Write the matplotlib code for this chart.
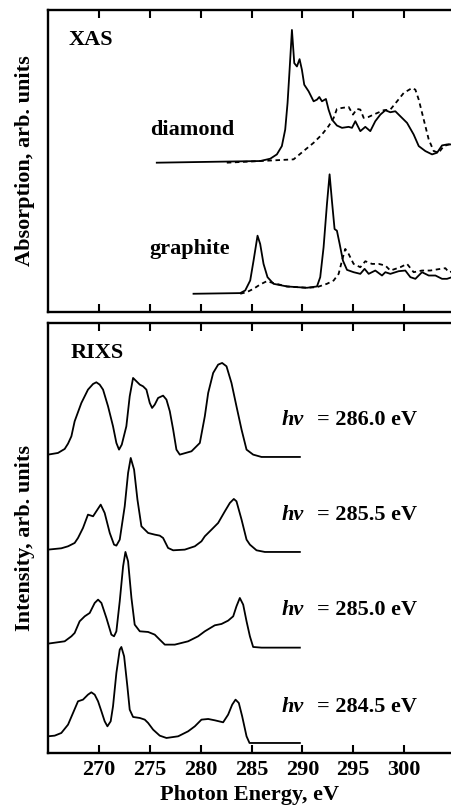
import matplotlib
matplotlib.use("Agg")
import matplotlib.pyplot as plt

plt.rcParams['font.family'] = ['Liberation Serif', 'DejaVu Serif']
plt.rcParams['font.weight'] = 'bold'

# ---------------- XAS data (photon energy eV, absorption arb. units) ----------------
dia_solid_x = [275.69, 285.85, 286.84, 287.49, 287.98, 288.31, 288.54, 288.74, 288.97, 289.20, 289.46,
               289.72, 289.95, 290.18, 290.61, 291.10, 291.43, 291.66, 291.92, 292.31, 292.57, 292.90,
               293.39, 293.89, 294.54, 294.87, 295.20, 295.69, 296.18, 296.67, 297.16, 297.66, 298.15,
               298.64, 299.13, 299.62, 300.28, 300.93, 301.43, 302.08, 302.74, 303.23, 303.72, 304.21,
               304.70]
dia_solid_y = [45.0, 45.5, 46.2, 47.5, 50.0, 55.0, 63.0, 73.0, 85.0, 75.0, 74.0,
               76.2, 73.0, 68.5, 66.5, 63.5, 64.0, 64.8, 63.5, 64.2, 61.0, 58.0,
               56.2, 55.5, 55.8, 55.5, 57.5, 54.5, 55.8, 54.5, 57.5, 59.5, 60.8,
               60.2, 60.5, 59.0, 57.0, 53.5, 50.0, 48.5, 47.5, 48.0, 50.2, 50.5,
               50.5]
dia_dash_x = [282.57, 289.13, 290.11, 291.10, 291.92, 292.57, 293.07, 293.39, 293.89, 294.54, 294.97,
              295.36, 295.69, 296.02, 296.51, 297.00, 297.98, 298.64, 299.30, 299.95, 300.77, 301.10,
              301.43, 301.92, 302.41, 302.90, 303.39, 303.89, 304.70]
dia_dash_y = [45.0, 46.0, 48.5, 51.0, 53.5, 56.0, 58.5, 61.2, 61.5, 61.8, 59.5,
              61.2, 61.0, 58.5, 58.8, 59.5, 60.8, 61.0, 63.5, 66.0, 67.5, 67.0,
              64.0, 58.0, 52.0, 48.5, 48.0, 50.0, 50.8]
gra_solid_x = [279.30, 283.89, 284.38, 284.87, 285.20, 285.59, 285.85, 286.18, 286.57, 287.16, 288.48,
               290.44, 291.43, 291.75, 292.08, 292.41, 292.67, 292.90, 293.16, 293.39, 293.66, 293.98,
               294.38, 295.03, 295.69, 296.11, 296.51, 297.16, 297.82, 298.15, 298.64, 299.46, 300.11,
               300.61, 301.10, 301.75, 302.41, 303.07, 303.72, 304.21, 304.70]
gra_solid_y = [5.5, 5.7, 6.5, 9.5, 15.5, 23.0, 20.5, 14.5, 10.5, 8.5, 7.7,
               7.3, 7.7, 10.5, 19.5, 32.5, 41.5, 33.5, 25.0, 24.5, 20.5, 15.5,
               12.7, 12.0, 11.5, 13.0, 11.5, 12.5, 11.0, 12.0, 11.5, 12.3, 12.5,
               10.5, 10.0, 12.0, 11.0, 11.0, 10.0, 10.0, 10.5]
gra_dash_x = [283.89, 284.54, 285.20, 285.85, 286.51, 287.16, 288.48, 290.44, 291.43, 292.41, 293.07,
              293.56, 293.89, 294.21, 294.54, 295.03, 295.69, 296.18, 296.84, 297.49, 298.15, 298.64,
              299.62, 300.28, 300.93, 301.75, 302.57, 303.56, 304.05, 304.38, 304.70]
gra_dash_y = [5.5, 6.0, 7.0, 8.3, 9.3, 8.7, 7.7, 7.3, 7.5, 8.5, 9.5,
              11.5, 15.5, 19.0, 17.5, 14.5, 13.5, 15.3, 14.5, 14.5, 14.0, 12.5,
              13.5, 14.5, 12.0, 12.5, 12.5, 13.0, 13.2, 12.0, 12.2]

# ---------------- RIXS data (photon energy eV, intensity arb. units, stacked) ----------------
rixs_labels = ["= 286.0 eV", "= 285.5 eV", "= 285.0 eV", "= 284.5 eV"]
rixs_label_y = [100.0, 71.5, 43.0, 13.9]

r1_x = [265.00, 265.98, 266.64, 266.97, 267.30, 267.62, 268.28, 268.93, 269.43, 269.75, 270.08,
        270.41, 270.90, 271.39, 271.72, 271.98, 272.25, 272.70, 273.03, 273.36, 273.69, 274.02,
        274.34, 274.67, 275.00, 275.23, 275.49, 275.82, 276.31, 276.64, 276.97, 277.30, 277.62,
        277.95, 279.10, 279.92, 280.41, 280.74, 281.23, 281.72, 282.11, 282.54, 283.03, 283.52,
        284.02, 284.51, 285.16, 285.98, 289.75]
r1_y = [89.5, 90.0, 91.2, 92.8, 95.0, 99.5, 105.0, 109.0, 110.7, 111.2, 110.5,
        109.0, 104.0, 98.0, 93.0, 91.0, 92.5, 98.0, 107.0, 112.5, 111.5, 110.5,
        110.0, 109.0, 105.0, 103.5, 104.5, 106.5, 107.2, 106.0, 102.5, 97.0, 91.0,
        89.5, 90.5, 93.0, 101.0, 108.0, 114.0, 116.5, 117.0, 116.0, 111.0, 104.0,
        97.0, 91.0, 89.5, 88.8, 88.8]
r2_x = [265.00, 266.31, 266.97, 267.62, 267.95, 268.44, 268.93, 269.43, 269.75, 270.18, 270.57,
        271.07, 271.49, 271.72, 272.05, 272.54, 272.87, 273.13, 273.46, 273.79, 274.18, 274.84,
        275.49, 275.98, 276.31, 276.80, 277.30, 278.44, 279.43, 280.08, 280.41, 281.07, 281.72,
        282.38, 282.87, 283.26, 283.52, 284.02, 284.51, 284.84, 285.49, 286.31, 289.75]
r2_y = [61.0, 61.4, 62.0, 63.0, 64.5, 67.5, 71.5, 71.0, 72.5, 74.5, 72.0,
        66.0, 62.5, 62.2, 64.0, 74.0, 84.0, 88.5, 85.0, 76.0, 68.0, 66.0,
        65.5, 65.2, 64.5, 61.5, 60.8, 61.0, 62.0, 63.5, 65.0, 67.0, 69.0,
        72.5, 75.0, 76.2, 75.5, 70.0, 64.0, 62.5, 60.8, 60.3, 60.3]
r3_x = [265.00, 266.64, 267.30, 267.62, 268.11, 268.61, 269.10, 269.59, 269.92, 270.25, 270.74,
        271.23, 271.49, 271.72, 272.05, 272.38, 272.61, 272.87, 273.20, 273.52, 274.02, 274.84,
        275.49, 275.98, 276.48, 277.46, 278.77, 279.75, 280.41, 281.39, 282.05, 282.70, 283.20,
        283.52, 283.85, 284.18, 284.51, 284.84, 285.16, 285.98, 289.75]
r3_y = [32.8, 33.5, 35.0, 36.0, 39.5, 41.0, 42.0, 45.0, 46.0, 45.0, 40.5,
        35.5, 35.0, 36.5, 45.5, 56.0, 60.3, 57.5, 46.5, 38.5, 36.5, 36.3,
        35.5, 34.0, 32.5, 32.5, 33.5, 35.0, 36.5, 38.3, 38.7, 39.7, 41.0,
        44.0, 46.5, 44.5, 39.5, 35.0, 31.8, 31.6, 31.6]
r4_x = [265.00, 265.66, 266.31, 266.97, 267.46, 267.95, 268.44, 268.93, 269.26, 269.59, 269.92,
        270.25, 270.57, 270.84, 271.16, 271.39, 271.72, 272.05, 272.21, 272.48, 272.80, 273.03,
        273.36, 274.02, 274.51, 274.84, 275.33, 275.98, 276.64, 277.79, 278.77, 279.43, 280.08,
        280.74, 281.39, 282.21, 282.70, 283.10, 283.43, 283.75, 284.08, 284.51, 284.80, 289.75]
r4_y = [5.0, 5.2, 6.0, 8.5, 12.0, 15.5, 16.0, 17.5, 18.2, 17.5, 15.5,
        12.5, 9.5, 8.0, 9.5, 14.0, 24.0, 31.0, 31.8, 29.0, 20.0, 13.0,
        10.8, 10.5, 10.0, 9.0, 7.0, 5.2, 4.5, 5.0, 6.5, 8.0, 10.0,
        10.2, 9.8, 9.2, 11.5, 14.5, 16.0, 15.0, 11.0, 5.0, 3.0, 3.0]

xticks = [270, 275, 280, 285, 290, 295, 300]

fig = plt.figure(figsize=(4.51, 8.10), dpi=100)
ax1 = fig.add_axes([0.1064, 0.6148, 0.8936, 0.3728])
ax2 = fig.add_axes([0.1064, 0.0704, 0.8936, 0.5309])

for ax in (ax1, ax2):
    ax.set_xlim(265, 304.6)
    ax.set_xticks(xticks)
    ax.set_yticks([])
    ax.spines['right'].set_visible(False)
    for s in ('left', 'top', 'bottom'):
        ax.spines[s].set_linewidth(1.7)
    ax.tick_params(axis='x', direction='in', top=True, bottom=True, length=6, width=1.5)
ax1.set_ylim(0, 91)
ax2.set_ylim(0, 129)

ax1.tick_params(axis='x', labelbottom=False)

lw = 1.3
dash = (0, (2.5, 2))
ax1.plot(dia_solid_x, dia_solid_y, color='black', lw=lw)
ax1.plot(dia_dash_x, dia_dash_y, color='black', lw=lw, ls=dash)
ax1.plot(gra_solid_x, gra_solid_y, color='black', lw=lw)
ax1.plot(gra_dash_x, gra_dash_y, color='black', lw=lw, ls=dash)

ax1.text(267.0, 82.0, "XAS", fontsize=16, fontweight='bold', va='center', ha='left')
ax1.text(275.0, 55.0, "diamond", fontsize=16, fontweight='bold', va='center', ha='left')
ax1.text(275.0, 19.0, "graphite", fontsize=16, fontweight='bold', va='center', ha='left')
ax1.set_ylabel("Absorption, arb. units", fontsize=16, fontweight='bold', labelpad=9)

for xs, ys in ((r1_x, r1_y), (r2_x, r2_y), (r3_x, r3_y), (r4_x, r4_y)):
    ax2.plot(xs, ys, color='black', lw=lw)

for lab, yy in zip(rixs_labels, rixs_label_y):
    ax2.text(288.0, yy, "hv", fontsize=16, fontweight='bold', fontstyle='italic', va='center', ha='left')
    ax2.text(291.4, yy, lab, fontsize=16, fontweight='bold', va='center', ha='left')

ax2.text(267.2, 120.1, "RIXS", fontsize=16, fontweight='bold', va='center', ha='left')
ax2.set_ylabel("Intensity, arb. units", fontsize=16, fontweight='bold', labelpad=9)
ax2.set_xlabel("Photon Energy, eV", fontsize=16, fontweight='bold', labelpad=4)
ax2.tick_params(axis='x', labelsize=16, pad=5)
for t in ax2.get_xticklabels():
    t.set_fontweight('bold')

fig.savefig("out.png", dpi=100)
